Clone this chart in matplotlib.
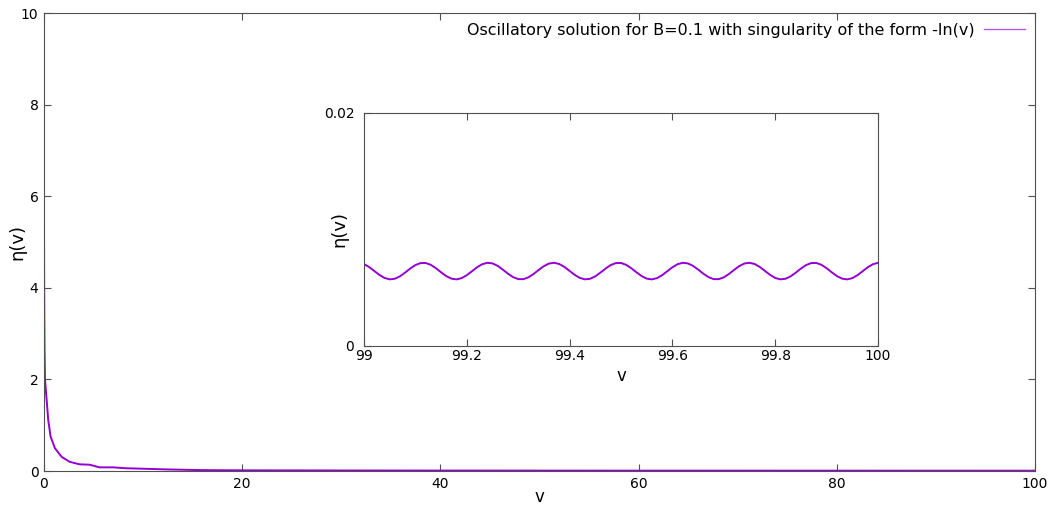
import matplotlib
matplotlib.use("Agg")
import matplotlib.pyplot as plt

# main curve
v_main = [0.0, 0.002, 0.01, 0.03, 0.06, 0.1, 0.27, 0.43, 0.67, 1.1, 1.78, 2.6, 3.6, 4.6,
          5.6, 7.0, 8.3, 10.0, 12.4, 15.8, 20.0, 30.0, 40.0, 60.0, 80.0, 100.0]
eta_main = [10.5, 6.2, 4.6, 3.5, 2.6, 2.0, 1.55, 1.11, 0.75, 0.50, 0.31, 0.20, 0.146, 0.138,
            0.08, 0.08, 0.06, 0.05, 0.035, 0.02, 0.015, 0.012, 0.010, 0.008, 0.0075, 0.007]

# inset: tail between v=99 and v=100
v_inset = [99.00 + 0.01 * k for k in range(101)]
eta_inset = [
    0.007033, 0.006779, 0.006441, 0.006100, 0.005839, 0.005720, 0.005772, 0.005982, 0.006301, 0.006651,
    0.006947, 0.007119, 0.007125, 0.006964, 0.006674, 0.006324, 0.006002, 0.005781, 0.005717, 0.005825,
    0.006079, 0.006416, 0.006758, 0.007020, 0.007140, 0.007089, 0.006879, 0.006561, 0.006212, 0.005915,
    0.005742, 0.005735, 0.005895, 0.006184, 0.006533, 0.006857, 0.007078, 0.007143, 0.007036, 0.006783,
    0.006446, 0.006104, 0.005841, 0.005720, 0.005770, 0.005979, 0.006297, 0.006647, 0.006945, 0.007118,
    0.007126, 0.006966, 0.006676, 0.006328, 0.006004, 0.005783, 0.005717, 0.005824, 0.006077, 0.006414,
    0.006756, 0.007018, 0.007140, 0.007090, 0.006882, 0.006564, 0.006214, 0.005917, 0.005742, 0.005734,
    0.005893, 0.006182, 0.006531, 0.006855, 0.007077, 0.007143, 0.007037, 0.006785, 0.006447, 0.006106,
    0.005842, 0.005720, 0.005770, 0.005978, 0.006295, 0.006646, 0.006943, 0.007118, 0.007126, 0.006967,
    0.006678, 0.006329, 0.006004, 0.005783, 0.005717, 0.005823, 0.006075, 0.006414, 0.006756, 0.007018,
    0.007140,
]

main_xticks = [0, 20, 40, 60, 80, 100]
main_yticks = [0, 2, 4, 6, 8, 10]
inset_xticks = [99, 99.2, 99.4, 99.6, 99.8, 100]
inset_xlabels = ["99", "99.2", "99.4", "99.6", "99.8", "100"]
inset_yticks = [0, 0.02]
inset_ylabels = ["0", "0.02"]

label = "Oscillatory solution for B=0.1 with singularity of the form -ln(v)"
col = "#9400d3"
border = "#505050"

fig = plt.figure(figsize=(10.52, 5.08), dpi=100)

ax = fig.add_axes([0.0418, 0.0728, 0.942, 0.9016])
ax.plot(v_main, eta_main, color=col, lw=1.4, label=label)
ax.set_xlim(0, 100)
ax.set_ylim(0, 10)
ax.set_xticks(main_xticks)
ax.set_yticks(main_yticks)
ax.set_xlabel("v", fontsize=12)
ax.set_ylabel("η(v)", fontsize=13)
ax.xaxis.set_label_coords(0.5, -0.036)
ax.yaxis.set_label_coords(-0.018, 0.5)
ax.tick_params(direction="in", top=True, right=True, labelsize=10, length=5,
               color=border, pad=4)
for s in ax.spines.values():
    s.set_color(border)
leg = ax.legend(loc="upper right", frameon=False, markerfirst=False, fontsize=11.5,
                handlelength=2.6, borderaxespad=0.2, handletextpad=0.6)
for h in leg.get_lines():
    h.set_linewidth(1.0)
    h.set_color("#b060e0")

ins = fig.add_axes([0.346, 0.3189, 0.4886, 0.4587])
ins.plot(v_inset, eta_inset, color=col, lw=1.4)
ins.set_xlim(99, 100)
ins.set_ylim(0, 0.02)
ins.set_xticks(inset_xticks)
ins.set_xticklabels(inset_xlabels)
ins.set_yticks(inset_yticks)
ins.set_yticklabels(inset_ylabels)
ins.set_xlabel("v", fontsize=12)
ins.set_ylabel("η(v)", fontsize=13)
ins.xaxis.set_label_coords(0.5, -0.09)
ins.yaxis.set_label_coords(-0.030, 0.5)
ins.tick_params(direction="in", top=True, right=True, labelsize=10, length=5,
                color=border, pad=2)
ins.tick_params(axis="y", pad=7)
for s in ins.spines.values():
    s.set_color(border)

fig.savefig("out.png", dpi=100)
